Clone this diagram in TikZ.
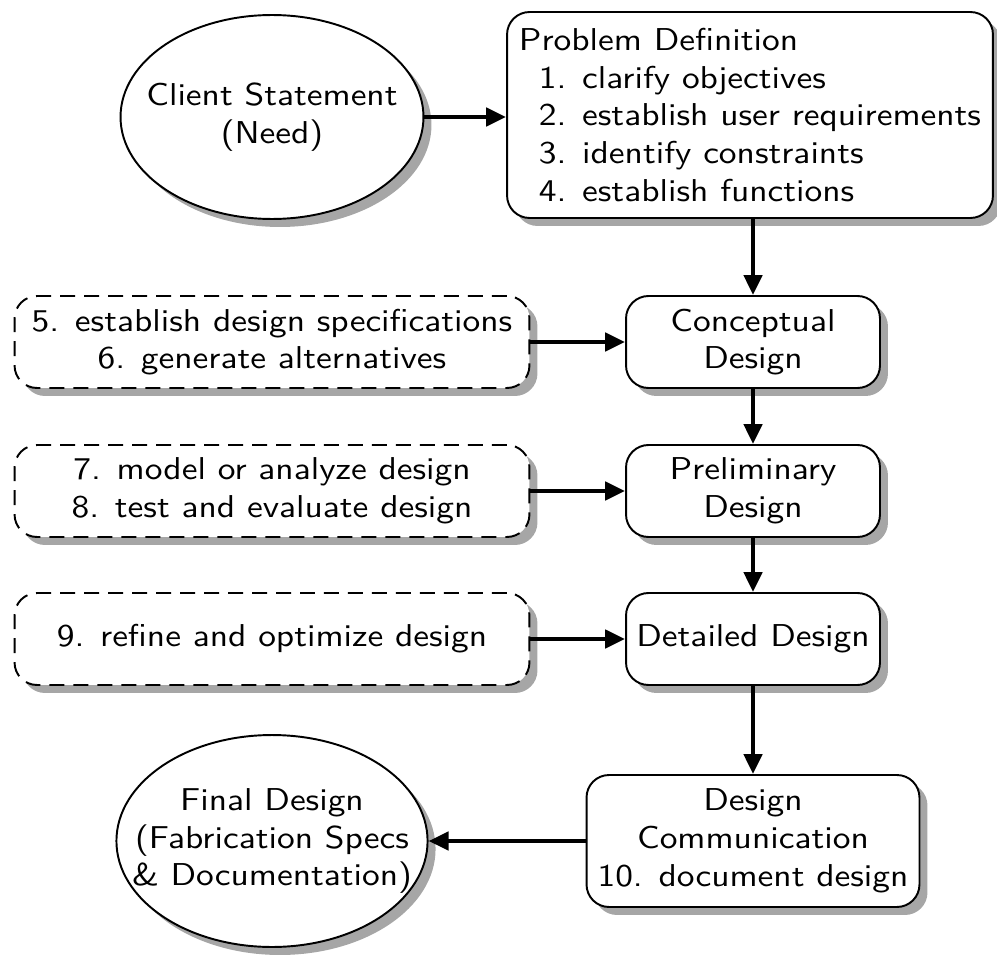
\documentclass[tikz,border=0pt]{standalone}
\usepackage{fontspec}
\setsansfont{lmsans10-regular.otf}[FakeStretch=1.12]
\usepackage{tikz}
\usetikzlibrary{calc,positioning,arrows.meta,shapes,shadows}

\begin{document}
\begin{tikzpicture}[x=0.02cm, y=-0.02cm]
\tikzstyle{every node}=[font=\sffamily\fontsize{18}{21.5}\selectfont,
                        align=center, inner sep=0pt]
\tikzstyle{boxshadow}=[drop shadow={shadow xshift=0.16cm, shadow yshift=-0.16cm,
                        fill=black!35, opacity=1}]
\tikzstyle{stage}=[rectangle, rounded corners=0.45cm, draw, line width=1.1pt,
                   fill=white, boxshadow, minimum width=5.08cm, minimum height=1.84cm]
\tikzstyle{task}=[stage, dash pattern=on 0.3cm off 0.18cm, minimum width=10.3cm]
\tikzstyle{oval}=[ellipse, draw, line width=1.1pt, fill=white, boxshadow,
                  inner xsep=-0.6cm, minimum width=6.06cm]
\tikzstyle{flow}=[line width=2.6pt, -{Triangle[length=0.4cm,width=0.36cm]}]
\useasboundingbox (0,0) rectangle (997,956);
% start and end
\node[oval, minimum height=4.08cm] (client) at (272,117) {Client Statement\\(Need)};
\node[oval, minimum height=4.24cm] (final) at (272,841)
     {Final Design\\(Fabrication Specs\\\& Documentation)};
% main stages
\node[stage, align=left, minimum width=9.72cm, minimum height=4.12cm] (prob) at (750,115)
     {Problem Definition\\
      \hspace*{0.4cm}1. clarify objectives\\
      \hspace*{0.4cm}2. establish user requirements\\
      \hspace*{0.4cm}3. identify constraints\\
      \hspace*{0.4cm}4. establish functions};
\node[stage] (concept) at (753,342) {Conceptual\\Design};
\node[stage] (prelim) at (753,491) {Preliminary\\Design};
\node[stage] (detail) at (753,639) {Detailed Design};
\node[stage, minimum width=6.66cm, minimum height=2.64cm] (comm) at (753,841)
     {Design\\Communication\\10. document design};
% tasks
\node[task] (spec) at (272,342) {5. establish design specifications\\6. generate alternatives};
\node[task] (model) at (272,491) {7. model or analyze design\\8. test and evaluate design};
\node[task] (refine) at (272,639) {9. refine and optimize design};
% arrows
\draw[flow] (client) -- (prob.west |- client);
\draw[flow] (prob.south -| concept.north) -- (concept.north);
\draw[flow] (concept) -- (prelim);
\draw[flow] (prelim) -- (detail);
\draw[flow] (detail) -- (comm);
\draw[flow] (spec) -- (concept);
\draw[flow] (model) -- (prelim);
\draw[flow] (refine) -- (detail);
\draw[flow] (comm) -- (final);
\end{tikzpicture}
\end{document}
